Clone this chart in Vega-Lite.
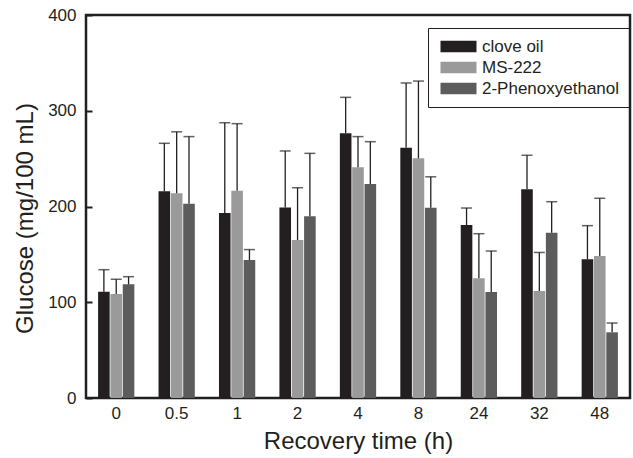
{
  "$schema": "https://vega.github.io/schema/vega-lite/v6.json",
  "width": 544,
  "height": 383,
  "autosize": {"type": "none"},
  "padding": {"left": 86, "top": 15, "right": 3, "bottom": 60},
  "background": "white",
  "config": {
    "font": "Liberation Sans",
    "view": {"stroke": "#231f20", "strokeWidth": 2.5},
    "axis": {"labelColor": "#231f20", "titleColor": "#231f20", "titleFontWeight": "normal", "grid": false, "domain": false}
  },
  "data": {
    "values": [
      {"time": "0", "group": "clove oil", "value": 111, "upper": 134},
      {"time": "0", "group": "MS-222", "value": 108.6, "upper": 124},
      {"time": "0", "group": "2-Phenoxyethanol", "value": 118.7, "upper": 126.7},
      {"time": "0.5", "group": "clove oil", "value": 215.8, "upper": 266},
      {"time": "0.5", "group": "MS-222", "value": 213.8, "upper": 278},
      {"time": "0.5", "group": "2-Phenoxyethanol", "value": 203, "upper": 273},
      {"time": "1", "group": "clove oil", "value": 193.2, "upper": 287.5},
      {"time": "1", "group": "MS-222", "value": 216.5, "upper": 286.5},
      {"time": "1", "group": "2-Phenoxyethanol", "value": 144, "upper": 155},
      {"time": "2", "group": "clove oil", "value": 199, "upper": 258},
      {"time": "2", "group": "MS-222", "value": 165, "upper": 219.6},
      {"time": "2", "group": "2-Phenoxyethanol", "value": 189.7, "upper": 255.5},
      {"time": "4", "group": "clove oil", "value": 276.4, "upper": 314},
      {"time": "4", "group": "MS-222", "value": 241, "upper": 273},
      {"time": "4", "group": "2-Phenoxyethanol", "value": 223.5, "upper": 267.7},
      {"time": "8", "group": "clove oil", "value": 261.4, "upper": 329},
      {"time": "8", "group": "MS-222", "value": 250.3, "upper": 331},
      {"time": "8", "group": "2-Phenoxyethanol", "value": 198.7, "upper": 231},
      {"time": "24", "group": "clove oil", "value": 180.7, "upper": 198.4},
      {"time": "24", "group": "MS-222", "value": 125, "upper": 171.6},
      {"time": "24", "group": "2-Phenoxyethanol", "value": 110.7, "upper": 153.5},
      {"time": "32", "group": "clove oil", "value": 218, "upper": 253.5},
      {"time": "32", "group": "MS-222", "value": 111.7, "upper": 152},
      {"time": "32", "group": "2-Phenoxyethanol", "value": 172.6, "upper": 205},
      {"time": "48", "group": "clove oil", "value": 144.8, "upper": 180},
      {"time": "48", "group": "MS-222", "value": 148.3, "upper": 208.6},
      {"time": "48", "group": "2-Phenoxyethanol", "value": 68.6, "upper": 78.3}
    ]
  },
  "encoding": {
    "x": {
      "field": "time", "type": "nominal",
      "sort": ["0", "0.5", "1", "2", "4", "8", "24", "32", "48"],
      "scale": {"paddingInner": 0.4, "paddingOuter": 0.2},
      "axis": {"title": "Recovery time (h)", "labelAngle": 0, "ticks": false, "labelPadding": 7, "labelFontSize": 17, "titleFontSize": 24, "titlePadding": 8}
    },
    "xOffset": {
      "field": "group", "type": "nominal",
      "sort": ["clove oil", "MS-222", "2-Phenoxyethanol"],
      "scale": {"paddingInner": 0.06, "paddingOuter": 0}
    }
  },
  "layer": [
    {
      "mark": {"type": "bar"},
      "encoding": {
        "y": {
          "field": "value", "type": "quantitative",
          "scale": {"domain": [0, 400], "nice": false},
          "axis": {"title": "Glucose (mg/100 mL)", "values": [0, 100, 200, 300, 400], "tickSize": -6, "tickWidth": 2, "tickColor": "#231f20", "labelPadding": 16, "labelFontSize": 17, "titleFontSize": 24, "titlePadding": 10, "titleY": 203}
        },
        "color": {
          "field": "group", "type": "nominal",
          "sort": ["clove oil", "MS-222", "2-Phenoxyethanol"],
          "scale": {"domain": ["clove oil", "MS-222", "2-Phenoxyethanol"], "range": ["#231f20", "#9a9a9a", "#5c5c5c"]},
          "legend": {
            "title": null,
            "orient": "none",
            "legendX": 342,
            "legendY": 13,
            "strokeColor": "#231f20",
            "padding": 10,
            "symbolType": "M-3,-0.95H3V0.95H-3Z",
            "symbolSize": 144,
            "symbolOffset": 12,
            "symbolStrokeWidth": 0,
            "labelFontSize": 17,
            "labelColor": "#231f20",
            "labelOffset": 15,
            "rowPadding": 3
          }
        }
      }
    },
    {
      "mark": {"type": "rule", "color": "#231f20", "strokeWidth": 1.3},
      "encoding": {
        "y": {"field": "value", "type": "quantitative"},
        "y2": {"field": "upper"}
      }
    },
    {
      "mark": {"type": "tick", "color": "#231f20", "thickness": 1.5, "size": 11},
      "encoding": {
        "y": {"field": "upper", "type": "quantitative"}
      }
    }
  ]
}
